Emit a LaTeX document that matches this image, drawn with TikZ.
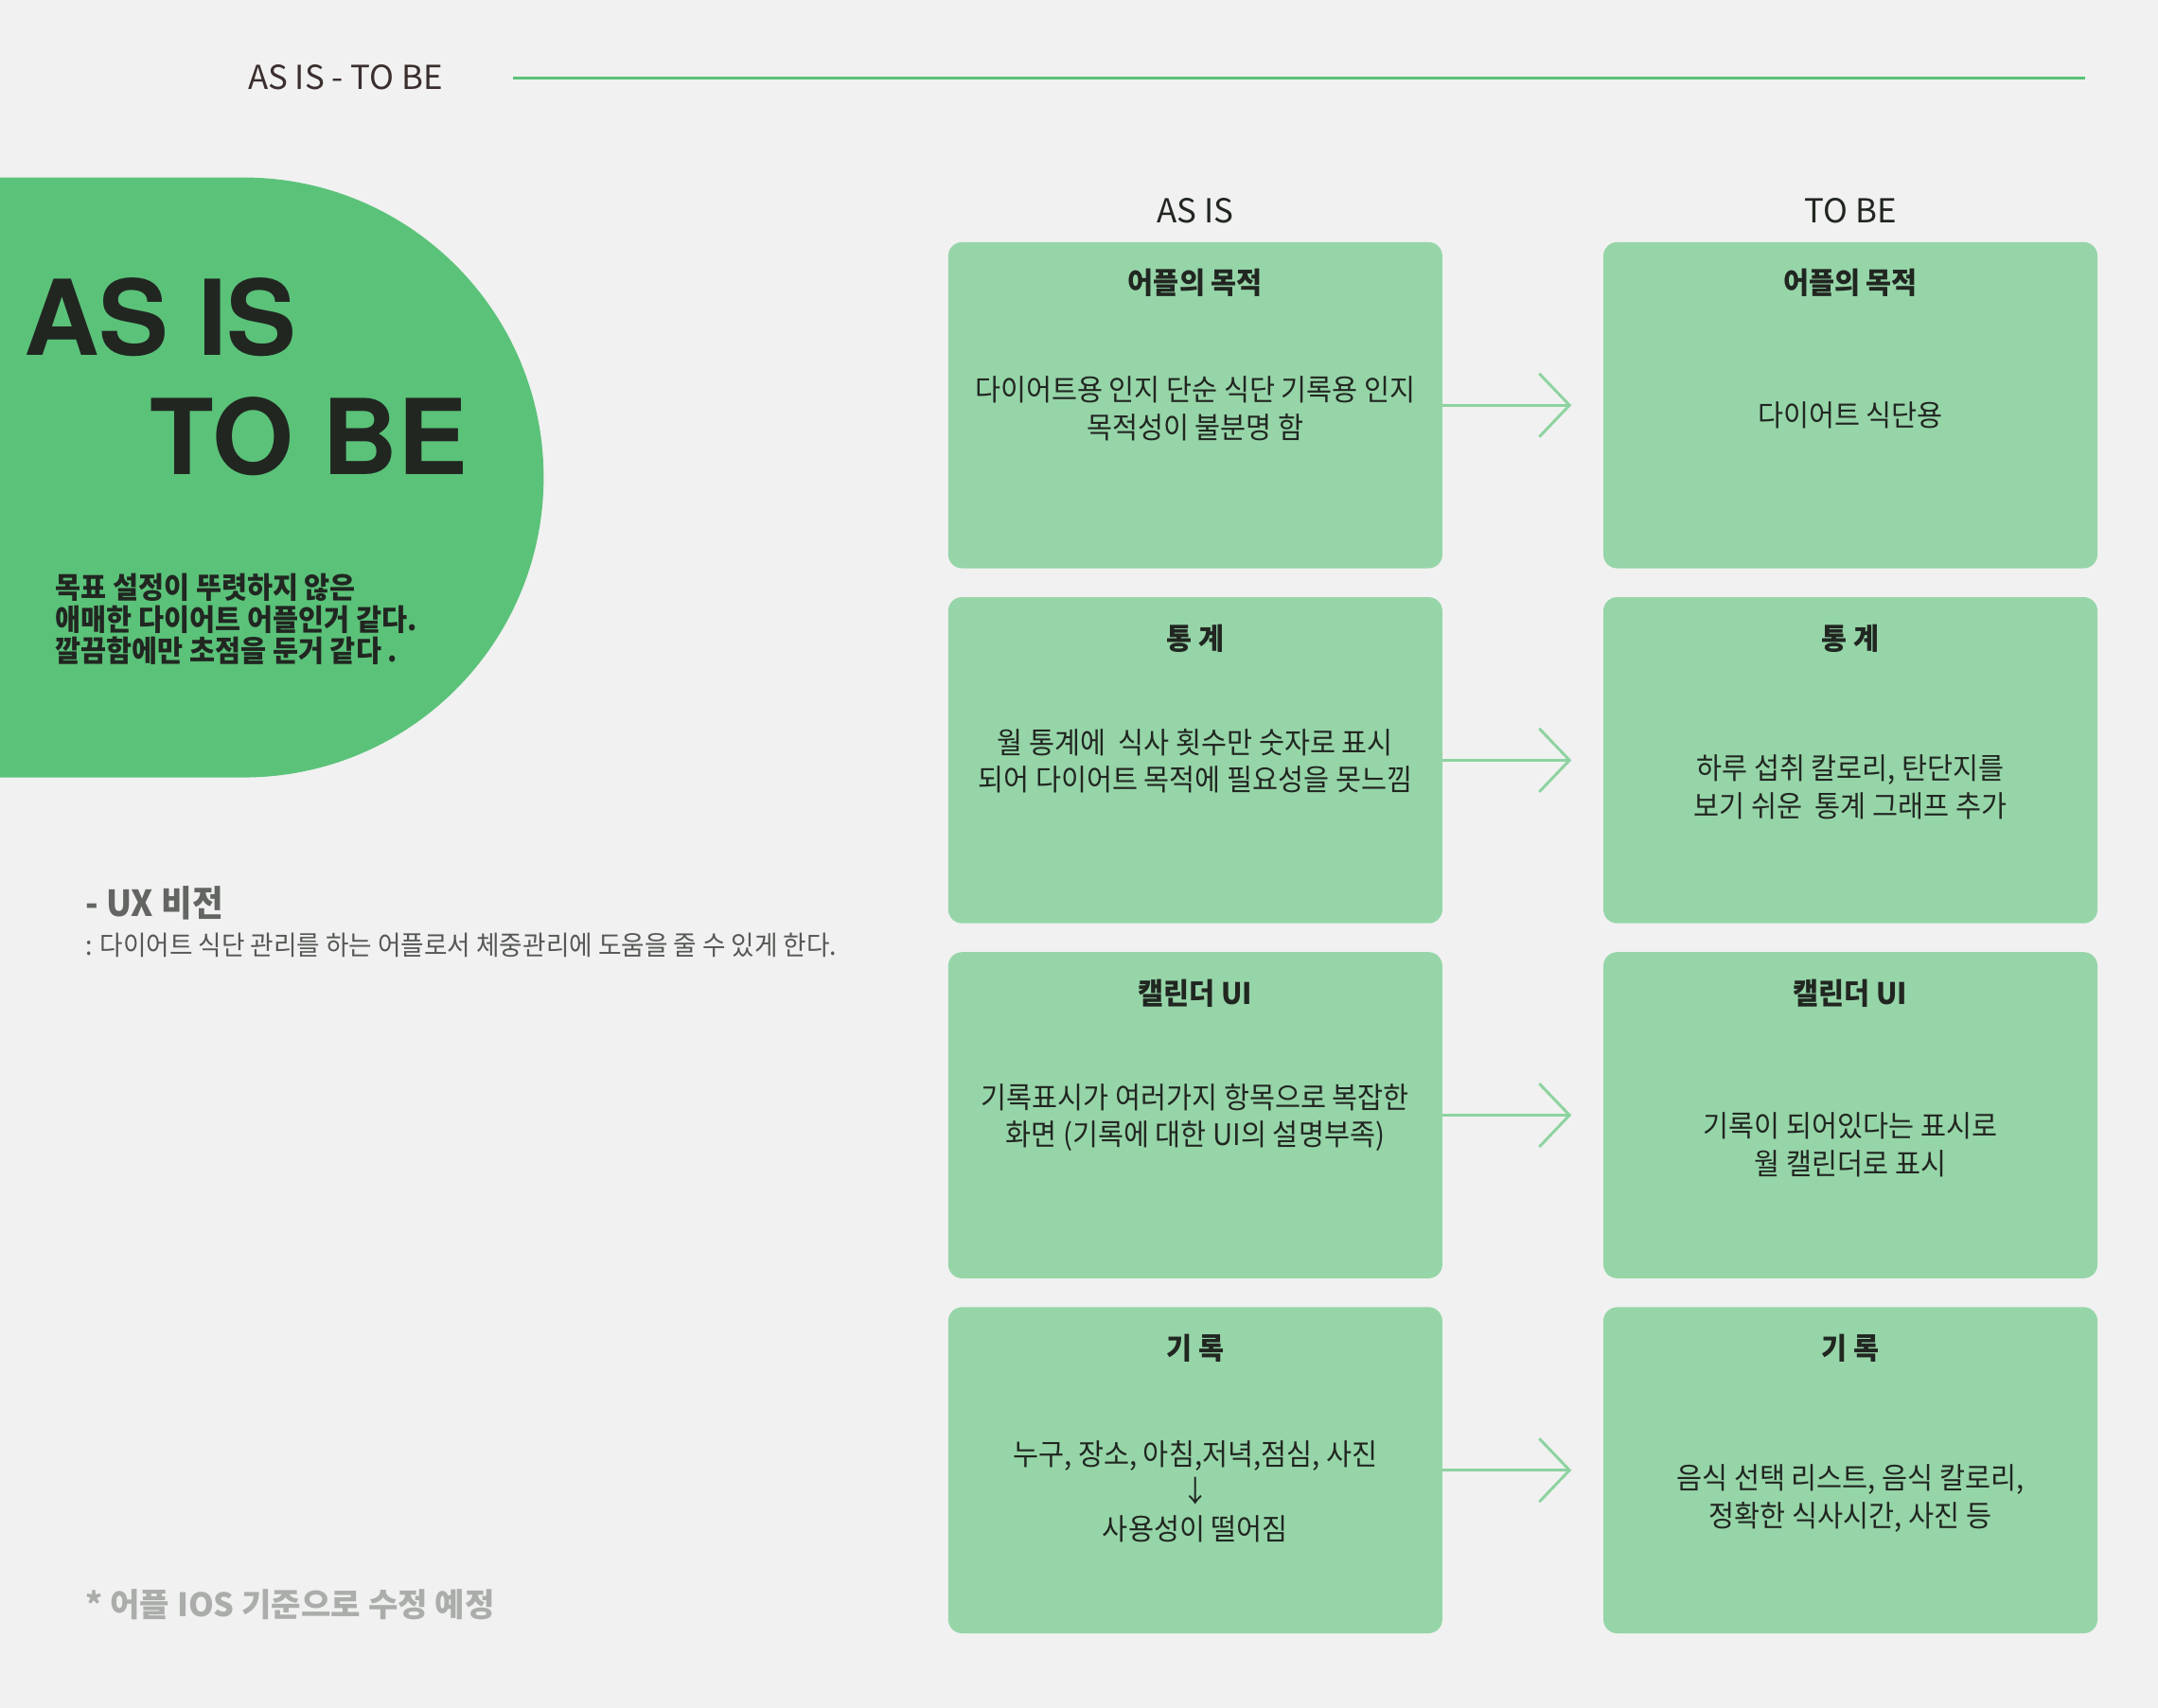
\documentclass[tikz,border=0pt]{standalone}
\usepackage{fontspec}
\usetikzlibrary{arrows.meta,calc}
\newfontfamily\kr{Noto Sans CJK KR}[FakeStretch=0.94]
\newfontfamily\krw{Noto Sans CJK KR}
\newfontfamily\heros{TeX Gyre Heros}
\definecolor{bgc}{HTML}{F0F1F0}
\definecolor{blob}{HTML}{5BC279}
\definecolor{boxc}{HTML}{96D5A8}
\definecolor{arrc}{HTML}{8DD3A0}
\definecolor{dark}{HTML}{212621}
\definecolor{brown}{HTML}{3B2E2E}
\definecolor{uxc}{HTML}{626562}
\definecolor{uxt}{HTML}{555855}
\definecolor{note}{HTML}{AAADAA}
\tikzset{
  card/.style={fill=boxc, rounded corners=10pt, minimum width=359pt, minimum height=237pt, inner sep=0pt, draw=none},
  cardtitle/.style={font=\kr\bfseries\fontsize{21.5}{27}\selectfont, text=dark, inner sep=0pt},
  cardbody/.style={font=\kr\fontsize{21.5}{27}\selectfont, text=dark, align=center, inner sep=0pt},
  flow/.style={draw=arrc, line width=2pt, -{Straight Barb[length=22pt,width=46pt,line width=2pt]}},
  colhead/.style={font=\krw\fontsize{24}{28}\selectfont, text=dark, inner sep=0pt}
}
\begin{document}
\begin{tikzpicture}[x=1pt,y=-1pt]
\fill[bgc] (0,0) rectangle (1568,1241);
\useasboundingbox (0,0) rectangle (1568,1241);
% header
\node[anchor=west, inner sep=0pt, text=brown, font=\krw\fontsize{24}{28}\selectfont] (hdr) at (180,56) {AS IS - TO BE};
\draw[blob, line width=2pt] (373,57) -- (1515,57);
% blob
\fill[blob] (0,129) -- (177,129) arc[start angle=90, end angle=-90, radius=218pt] -- (0,565) -- cycle;
\node[anchor=base west, inner sep=0pt, text=dark, font=\heros\bfseries\fontsize{76}{80}\selectfont] (asis) at (17,258) {AS IS};
\node[anchor=base west, inner sep=0pt, text=dark, font=\heros\bfseries\fontsize{76}{80}\selectfont] (tobe) at (109,345) {TO BE};
\node[anchor=west, inner sep=0pt, align=left, text=dark, font=\kr\bfseries\fontsize{21.5}{23}\selectfont] (para) at (40,450) {목표 설정이 뚜렷하지 않은\\애매한 다이어트 어플인거 같다.\\깔끔함에만 초점을 둔거 같다 .};
% UX vision
\node[anchor=west, inner sep=0pt, text=uxc, font=\kr\bfseries\fontsize{26}{28}\selectfont] (uxh) at (62,656) {- UX 비전};
\node[anchor=west, inner sep=0pt, text=uxt, font=\kr\fontsize{19.5}{22}\selectfont] (uxb) at (62,687) {: 다이어트 식단 관리를 하는 어플로서 체중관리에 도움을 줄 수 있게 한다.};
\node[anchor=west, inner sep=0pt, text=note, font=\krw\bfseries\fontsize{23.5}{26}\selectfont] (fn) at (62,1166) {* 어플 IOS 기준으로 수정 예정};
% column heads
\node[colhead] (ha) at (868.5,153) {AS IS};
\node[colhead] (hb) at (1344.5,153) {TO BE};
% cards
\foreach \i/\y in {1/294.5,2/552.5,3/810.5,4/1068.5}{
  \node[card] (a\i) at (868.5,\y) {};
  \node[card] (b\i) at (1344.5,\y) {};
}
% titles
\node[cardtitle] (ta1) at ($(a1.north)+(0,30)$) {어플의 목적};
\node[cardtitle] (tb1) at ($(b1.north)+(0,30)$) {어플의 목적};
\node[cardtitle] (ta2) at ($(a2.north)+(0,30)$) {통 계};
\node[cardtitle] (tb2) at ($(b2.north)+(0,30)$) {통 계};
\node[cardtitle] (ta3) at ($(a3.north)+(0,30)$) {캘린더 UI};
\node[cardtitle] (tb3) at ($(b3.north)+(0,30)$) {캘린더 UI};
\node[cardtitle] (ta4) at ($(a4.north)+(0,30)$) {기 록};
\node[cardtitle] (tb4) at ($(b4.north)+(0,30)$) {기 록};
% bodies
\node[cardbody] (ca1) at (868.5,297) {다이어트용 인지 단순 식단 기록용 인지\\목적성이 불분명 함};
\node[cardbody] (cb1) at (1344.5,302) {다이어트 식단용};
\node[cardbody] (ca2) at (868.5,553) {월 통계에\ \ 식사 횟수만 숫자로 표시\\되어 다이어트 목적에 필요성을 못느낌};
\node[cardbody] (cb2) at (1344.5,572) {하루 섭취 칼로리, 탄단지를\\보기 쉬운\ \ 통계 그래프 추가};
\node[cardbody] (ca3) at (868.5,812) {기록표시가 여러가지 항목으로 복잡한\\화면 (기록에 대한 UI의 설명부족)};
\node[cardbody] (cb3) at (1344.5,832) {기록이 되어있다는 표시로\\월 캘린더로 표시};
\node[cardbody] (ca4) at (868.5,1084) {누구, 장소, 아침,저녁,점심, 사진\\↓\\사용성이 떨어짐};
\node[cardbody] (cb4) at (1344.5,1089) {음식 선택 리스트, 음식 칼로리,\\정확한 식사시간, 사진 등};
% arrows
\foreach \i in {1,2,3,4}{
  \draw[flow] (a\i.east) -- ($(b\i.west)+(-23,0)$);
}
\end{tikzpicture}
\end{document}
